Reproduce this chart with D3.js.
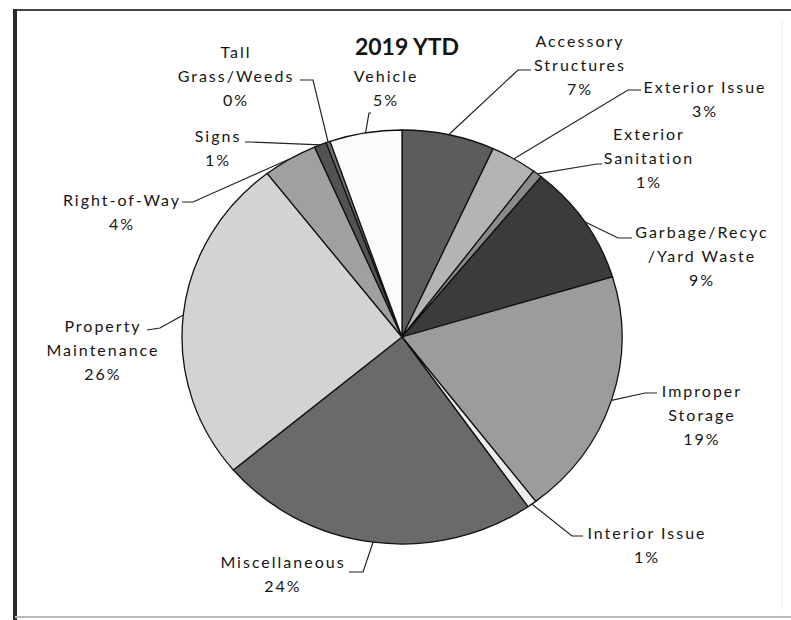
<!DOCTYPE html>
<html>
<head>
<meta charset="utf-8">
<script src="https://cdn.jsdelivr.net/npm/d3@7"></script>
<style>
  body { margin: 0; background: #fff; }
  text { font-family: Lato, "Open Sans", sans-serif; fill: #151515; }
</style>
</head>
<body>
<script>
// chart size
var width = 791;
var height = 620;

// slice data, clockwise from 12 o'clock (share of the 2019 YTD total, in %)
var categories = ["Accessory Structures", "Exterior Issue", "Exterior Sanitation",
  "Garbage/Recyc/Yard Waste", "Improper Storage", "Interior Issue", "Miscellaneous",
  "Property Maintenance", "Right-of-Way", "Signs", "Tall Grass/Weeds", "Vehicle"];
var values = [6.8, 3.4, 0.7, 9.4, 19.3, 0.7, 23.6, 25.6, 4.0, 0.9, 0.3, 5.3];
var fills = ["#5c5c5c", "#b4b4b4", "#8a8a8a", "#3b3b3b", "#9c9c9c", "#ececec",
  "#6a6a6a", "#d3d3d3", "#a0a0a0", "#525252", "#707070", "#fbfbfb"];

// how each label is broken into lines
var labelLines = [["Accessory", "Structures"], ["Exterior Issue"], ["Exterior", "Sanitation"],
  ["Garbage/Recyc", "/Yard Waste"], ["Improper", "Storage"], ["Interior Issue"],
  ["Miscellaneous"], ["Property", "Maintenance"], ["Right-of-Way"], ["Signs"],
  ["Tall", "Grass/Weeds"], ["Vehicle"]];

// label placement: text centre x, first baseline y, leader elbow and leader end
var labelPos = [
  {x: 580, y: 47, elbow: [518, 70], end: [531, 70]},
  {x: 705, y: 93, elbow: [628, 90], end: [641, 90]},
  {x: 649, y: 140, elbow: [597, 164], end: [602, 164]},
  {x: 702, y: 238, elbow: [618, 238], end: [632, 238]},
  {x: 702, y: 397, elbow: [645, 393], end: [657, 393]},
  {x: 647, y: 539, elbow: [572, 536], end: [583, 536]},
  {x: 283, y: 568, elbow: [363, 572], end: [349, 572]},
  {x: 103, y: 332, elbow: [160, 328], end: [147, 330]},
  {x: 122, y: 206, elbow: [193, 202], end: [182, 202]},
  {x: 218, y: 142, elbow: [250, 142], end: [245, 142]},
  {x: 236, y: 58, elbow: [313, 80], end: [300, 80]},
  {x: 386, y: 82, elbow: [369, 113], end: [371, 113]}
];

var cx = 402, cy = 337, rx = 220, ry = 207;
var lineH = 24;

var svg = d3.select("body").append("svg")
  .attr("width", width).attr("height", height);

// frame of the scanned chart
svg.append("line").attr("x1", 15).attr("y1", 10).attr("x2", 791).attr("y2", 10)
  .attr("stroke", "#444").attr("stroke-width", 2);
svg.append("line").attr("x1", 15).attr("y1", 9).attr("x2", 15).attr("y2", 620)
  .attr("stroke", "#2a2a2a").attr("stroke-width", 4);
svg.append("line").attr("x1", 15).attr("y1", 617).attr("x2", 791).attr("y2", 617)
  .attr("stroke", "#bbb").attr("stroke-width", 2);
svg.append("line").attr("x1", 782).attr("y1", 20).attr("x2", 782).attr("y2", 610)
  .attr("stroke", "#eee").attr("stroke-width", 1);

var pie = d3.pie().sort(null).value(function(d){ return d; });
var arcs = pie(values);
var arc = d3.arc().innerRadius(0).outerRadius(rx);

// pie is slightly squashed in the picture
var g = svg.append("g")
  .attr("transform", "translate(" + cx + "," + cy + ") scale(1," + (ry / rx) + ")");

g.selectAll("path")
  .data(arcs)
  .enter()
  .append("path")
  .attr("d", arc)
  .attr("fill", function(d, i){ return fills[i]; })
  .attr("stroke", "#111")
  .attr("stroke-width", 1.3)
  .attr("vector-effect", "non-scaling-stroke");

// point on the rim at the middle of a slice
function rimPoint(d){
  var a = (d.startAngle + d.endAngle) / 2;
  return [cx + rx * Math.sin(a), cy - ry * Math.cos(a)];
}

var pct = d3.format(".0%");
var total = d3.sum(values);

svg.append("g").selectAll("polyline")
  .data(arcs)
  .enter()
  .append("polyline")
  .attr("points", function(d, i){
    var p = rimPoint(d);
    return [p, labelPos[i].elbow, labelPos[i].end].map(function(q){ return q.join(","); }).join(" ");
  })
  .attr("fill", "none")
  .attr("stroke", "#222")
  .attr("stroke-width", 1.2);

var labels = svg.append("g").selectAll("text")
  .data(arcs)
  .enter()
  .append("text")
  .attr("text-anchor", "middle")
  .attr("font-size", 16)
  .attr("letter-spacing", 2)
  .attr("x", function(d, i){ return labelPos[i].x; })
  .attr("y", function(d, i){ return labelPos[i].y; });

labels.each(function(d, i){
  var t = d3.select(this);
  var lines = labelLines[i].concat([pct(Math.round(d.value / total * 100) / 100)]);
  lines.forEach(function(s, k){
    t.append("tspan")
      .attr("x", labelPos[i].x)
      .attr("dy", k == 0 ? 0 : lineH)
      .text(s);
  });
});

svg.append("text")
  .attr("x", 407).attr("y", 55)
  .attr("text-anchor", "middle")
  .attr("font-size", 23)
  .attr("font-weight", "bold")
  .text("2019 YTD");
</script>
</body>
</html>
